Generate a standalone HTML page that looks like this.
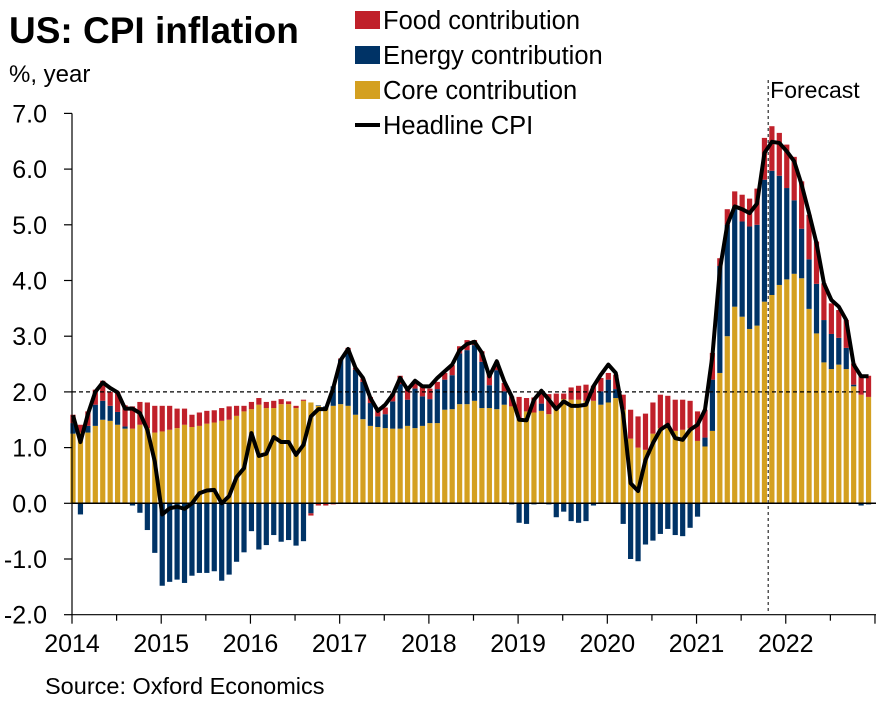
<!DOCTYPE html>
<html><head><meta charset="utf-8">
<style>
html,body{margin:0;padding:0;background:#fff;}
svg{display:block;font-family:"Liberation Sans",Arial,sans-serif;}
</style></head>
<body>
<svg id="chart" width="885" height="708" viewBox="0 0 885 708" xmlns="http://www.w3.org/2000/svg">
  <text x="9" y="43" font-size="37" font-weight="bold" fill="#000">US: CPI inflation</text>
  <text x="9" y="82" font-size="24" fill="#000">%, year</text>
  <g>
    <rect x="355" y="11" width="25" height="18" fill="#C0202A"/>
    <text x="383" y="29" font-size="25.5">Food contribution</text>
    <rect x="355" y="46" width="25" height="18" fill="#003366"/>
    <text x="383" y="64" font-size="25.5">Energy contribution</text>
    <rect x="355" y="81" width="25" height="18" fill="#D4A020"/>
    <text x="383" y="99" font-size="25.5">Core contribution</text>
    <rect x="355" y="123" width="25" height="4" fill="#000"/>
    <text x="383" y="134" font-size="25.5">Headline CPI</text>
  </g>
  <g id="bars"></g>
  <g id="axes"></g>
  <text x="45" y="694" font-size="23.5" fill="#000">Source: Oxford Economics</text>
</svg>
<script>
const years = ["2014","2015","2016","2017","2018","2019","2020","2021","2022"];
const yTicks = [7,6,5,4,3,2,1,0,-1,-2];
const core = [1.25,1.27,1.27,1.39,1.5,1.48,1.41,1.34,1.34,1.41,1.35,1.27,
1.29,1.32,1.35,1.41,1.37,1.39,1.43,1.45,1.48,1.5,1.57,1.65,
1.69,1.77,1.71,1.71,1.78,1.78,1.71,1.84,1.81,1.75,1.72,1.75,
1.78,1.75,1.59,1.51,1.39,1.37,1.35,1.34,1.34,1.39,1.35,1.39,
1.44,1.44,1.68,1.69,1.78,1.78,1.84,1.71,1.71,1.69,1.77,1.74,
1.53,1.65,1.63,1.66,1.6,1.68,1.87,1.86,1.86,1.84,1.84,1.77,
1.81,1.89,1.68,1.16,1.0,0.96,1.25,1.35,1.35,1.3,1.32,1.35,
1.12,1.02,1.3,2.34,3.0,3.53,3.35,3.13,3.19,3.62,3.74,3.92,
4.02,4.12,4.04,3.49,3.05,2.53,2.41,2.49,2.41,2.1,1.95,1.91];
const energy = [0.19,-0.2,0.12,0.38,0.34,0.27,0.23,0.04,-0.04,-0.17,-0.48,-0.89,
-1.48,-1.41,-1.37,-1.43,-1.3,-1.25,-1.25,-1.22,-1.39,-1.28,-1.05,-0.88,
-0.5,-0.83,-0.75,-0.57,-0.69,-0.66,-0.76,-0.68,-0.18,0.01,0.02,0.35,
0.8,1.0,0.81,0.67,0.41,0.19,0.25,0.49,0.8,0.47,0.71,0.53,
0.43,0.61,0.54,0.61,0.91,0.97,1.0,0.83,0.41,0.7,0.24,-0.02,
-0.35,-0.37,-0.02,0.13,-0.02,-0.25,-0.15,-0.32,-0.35,-0.32,-0.04,0.24,
0.41,0.16,-0.37,-1.0,-1.04,-0.74,-0.67,-0.55,-0.46,-0.57,-0.59,-0.44,
-0.24,0.16,0.92,1.92,2.0,1.8,1.71,1.84,1.81,2.19,2.23,1.96,
1.64,1.32,0.89,0.89,0.89,0.76,0.63,0.48,0.38,0.03,-0.04,-0.02];
const food = [0.15,0.14,0.26,0.27,0.36,0.25,0.36,0.38,0.4,0.41,0.46,0.48,
0.46,0.43,0.35,0.29,0.22,0.24,0.23,0.22,0.23,0.24,0.18,0.1,
0.13,0.12,0.11,0.13,0.09,0.05,0.04,0.02,-0.04,-0.04,-0.04,-0.02,
0.02,0.04,0.03,0.06,0.11,0.12,0.12,0.14,0.15,0.18,0.1,0.18,
0.19,0.13,0.12,0.18,0.13,0.18,0.09,0.19,0.21,0.15,0.15,0.18,
0.38,0.24,0.27,0.18,0.36,0.29,0.1,0.22,0.25,0.29,0.27,0.24,
0.12,0.26,0.27,0.52,0.56,0.65,0.56,0.6,0.58,0.56,0.54,0.49,
0.53,0.5,0.48,0.14,0.28,0.27,0.48,0.5,0.65,0.75,0.8,0.77,
0.78,0.78,0.85,0.8,0.76,0.66,0.55,0.5,0.5,0.38,0.36,0.38];
const headline = [1.58,1.1,1.6,2.0,2.17,2.07,1.99,1.7,1.7,1.62,1.32,0.75,
-0.2,-0.09,-0.06,-0.1,0,0.18,0.23,0.24,0,0.13,0.47,0.63,
1.26,0.85,0.89,1.19,1.1,1.1,0.87,1.05,1.56,1.69,1.69,2.07,
2.57,2.77,2.43,2.25,1.89,1.66,1.77,1.95,2.25,2.04,2.2,2.1,
2.1,2.25,2.37,2.49,2.75,2.86,2.9,2.7,2.28,2.55,2.19,1.92,
1.5,1.49,1.86,2.02,1.86,1.69,1.83,1.75,1.75,1.77,2.1,2.31,
2.49,2.34,1.6,0.36,0.22,0.78,1.08,1.32,1.41,1.17,1.14,1.32,
1.41,1.68,2.65,4.19,5.0,5.33,5.28,5.21,5.38,6.29,6.49,6.47,
6.32,6.14,5.72,5.21,4.67,3.95,3.65,3.53,3.29,2.49,2.28,2.28];
const target = 2.0;
const forecastIndex = 93.5;

const NS = "http://www.w3.org/2000/svg";
const X0 = 73, STEP = 7.435, BW = 5.2;
const xPos = i => X0 + i * STEP;
const yPos = v => 503.3 - v * 55.7;
function mk(tag, attrs, parent){const e=document.createElementNS(NS,tag);for(const k in attrs)e.setAttribute(k,attrs[k]);parent.appendChild(e);return e;}
const bars = document.getElementById('bars');
const axes = document.getElementById('axes');
const colors = {core:"#D4A020", energy:"#003366", food:"#C0202A"};
const series = [["core",core],["energy",energy],["food",food]];
for (let i = 0; i < core.length; i++) {
  let pos = 0, neg = 0;
  for (const [name, arr] of series) {
    const v = arr[i];
    let a, b;
    if (v >= 0) { a = pos; b = pos + v; pos = b; } else { a = neg; b = neg + v; neg = b; }
    const y1 = yPos(Math.max(a,b)), y2 = yPos(Math.min(a,b));
    const r = mk('rect', {x:(xPos(i)-BW/2).toFixed(2), y:y1.toFixed(2), width:BW, height:Math.max(0,y2-y1).toFixed(2), fill:colors[name]}, bars);
    
    
  }
}
const tl = mk('line', {x1:72, x2:866, y1:yPos(target), y2:yPos(target), stroke:"#000", "stroke-width":1.2, "stroke-dasharray":"4,3"}, axes);


const zl = mk('line', {x1:72, x2:876, y1:yPos(0), y2:yPos(0), stroke:"#000", "stroke-width":1.5}, axes);


const fx = xPos(forecastIndex);
const fl = mk('line', {x1:fx, x2:fx, y1:80, y2:614, stroke:"#000", "stroke-width":1, "stroke-dasharray":"3,3"}, axes);


const ft = mk('text', {x:fx+2, y:98, "font-size":23}, axes);
ft.textContent = "Forecast";


const pts = headline.map((v,i)=>xPos(i).toFixed(2)+","+yPos(v).toFixed(2)).join(" ");
const hl = mk('polyline', {points:pts, fill:"none", stroke:"#000", "stroke-width":4, "stroke-linejoin":"round"}, axes);


const ya = mk('line', {x1:72, x2:72, y1:yPos(7), y2:yPos(-2), stroke:"#000", "stroke-width":1.2}, axes);


for (const t of yTicks) {
  const tk = mk('line', {x1:64, x2:72, y1:yPos(t), y2:yPos(t), stroke:"#000", "stroke-width":1.2}, axes);
  
  
  const lb = mk('text', {x:47, y:yPos(t)+9, "font-size":25, "text-anchor":"end"}, axes);
  lb.textContent = t.toFixed(1);
  
  
}
const xa = mk('line', {x1:72, x2:876, y1:yPos(-2), y2:yPos(-2), stroke:"#000", "stroke-width":1.2}, axes);


for (let h = 0; h <= 18; h++) {
  const x = 72 + h * 6 * STEP;
  const tk = mk('line', {x1:x, x2:x, y1:yPos(-2), y2:yPos(-2)+(h%2===0?9:6), stroke:"#000", "stroke-width":1.2}, axes);
  
  
}
years.forEach((yr, k) => {
  const lb = mk('text', {x:72 + k*12*STEP, y:652, "font-size":25, "text-anchor":"middle"}, axes);
  lb.textContent = yr;
  
  
});
</script>
</body></html>
